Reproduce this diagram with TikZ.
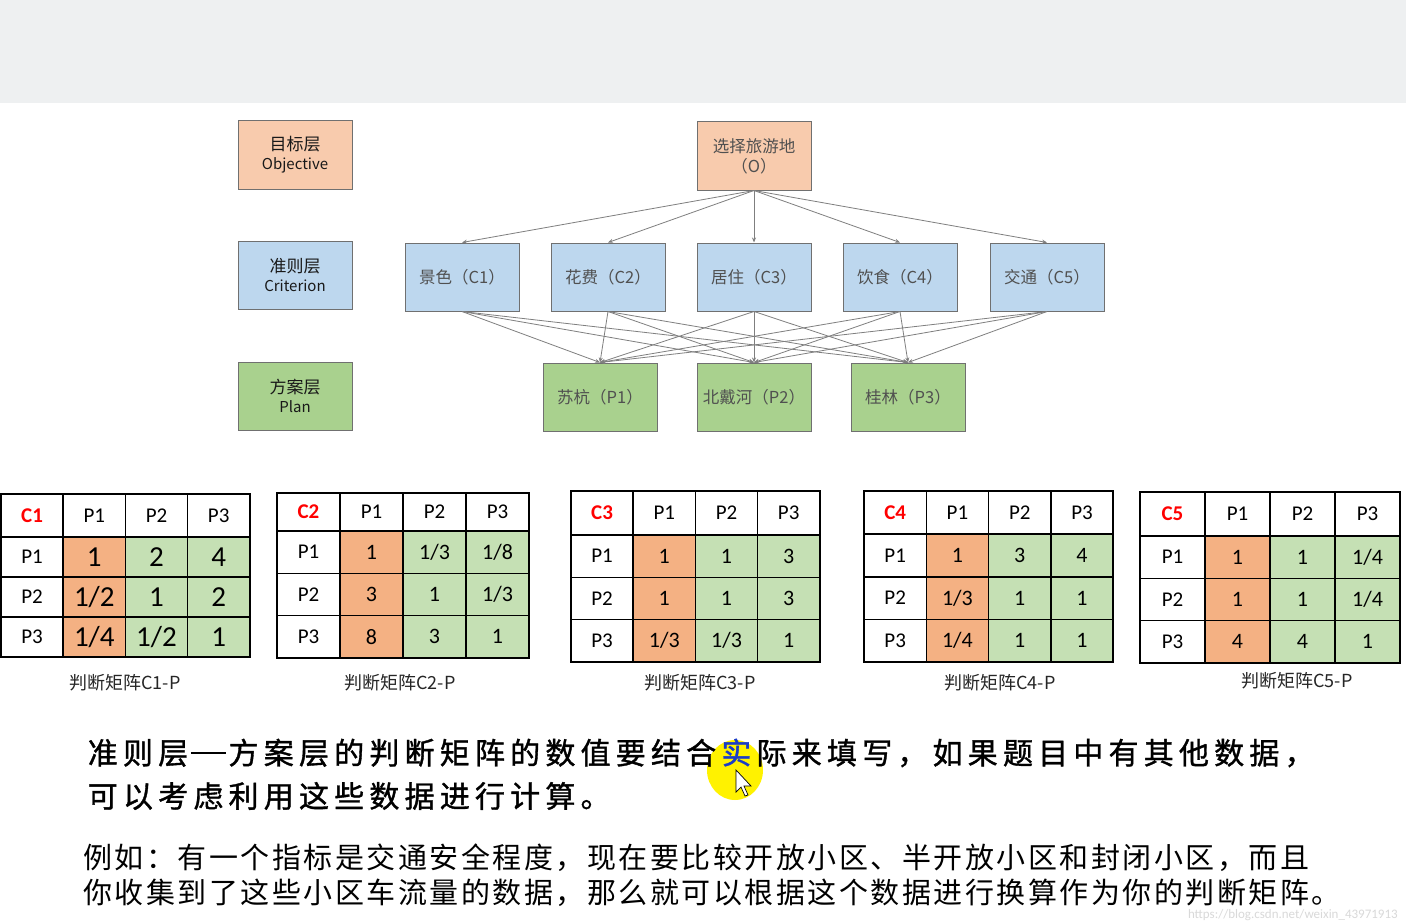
\documentclass[tikz,border=0pt]{standalone}
\usepackage{fontspec}
\setmainfont{Carlito}
\newfontfamily\cjk{Noto Sans CJK SC}
\newfontfamily\cjkfb[FakeBold=1.2]{Noto Sans CJK SC}
\usetikzlibrary{arrows.meta}
\definecolor{topbar}{HTML}{EEF0F1}
\definecolor{peach}{HTML}{F8CBAD}
\definecolor{lblue}{HTML}{BDD7EE}
\definecolor{lgreen}{HTML}{A9D18E}
\definecolor{torange}{HTML}{F4B183}
\definecolor{tgreen}{HTML}{C5E0B4}
\definecolor{boxgrey}{HTML}{707070}
\definecolor{txtgrey}{HTML}{505050}
\definecolor{arrgrey}{HTML}{7F7F7F}
\definecolor{hired}{HTML}{FF0000}
\definecolor{hiblue}{HTML}{1A3CC8}
\definecolor{wmgrey}{HTML}{D9D9D9}
\newlength\cw
\makeatletter
\def\spaced#1{\spaced@aux#1\relax}
\def\spaced@aux#1{\ifx#1\relax\else\makebox[\cw]{#1}\expandafter\spaced@aux\fi}
\makeatother
\tikzset{
  box/.style={draw=boxgrey, line width=1pt, minimum width=114pt, minimum height=68pt, inner sep=0pt, align=center},
  layerlab/.style={box, font=\cjk\fontsize{17}{21}\selectfont, text=black!90},
  nodetxt/.style={box, font=\cjk\fontsize{16.5}{20}\selectfont, text=txtgrey},
  arr/.style={draw=arrgrey, line width=0.8pt, -{Stealth[length=5pt,width=4pt]}},
  tgrid/.style={draw=black, line width=1.6pt},
  tcell/.style={font=\fontsize{21}{21}\selectfont, inner sep=0pt},
  mlabel/.style={font=\cjk\fontsize{18}{18}\selectfont, text=black!85, inner sep=0pt},
}
% #1 prefix, #2 x0, #3 y0, #4 col width, #5 header height, #6 row height, #7 header, #8 values, #9 value font size
\newcommand\mtab[9]{%
\begin{scope}[shift={(#2,#3)}]
\fill[torange] (#4,#5) rectangle ({2*#4},{#5+3*#6});
\fill[tgreen] ({2*#4},#5) rectangle ({4*#4},{#5+3*#6});
\foreach \i in {1,2,3} {
  \draw[tgrid] ({\i*#4},0) -- ({\i*#4},{#5+3*#6});
  \draw[tgrid] (0,{#5+(\i-1)*#6}) -- ({4*#4},{#5+(\i-1)*#6});
}
\draw[tgrid] (0,0) rectangle ({4*#4},{#5+3*#6});
\node[tcell, text=hired, font=\bfseries\fontsize{21}{21}\selectfont] (#1-h) at ({#4/2},{#5/2}) {#7};
\foreach \i in {1,2,3} {
  \node[tcell] (#1-c\i) at ({(\i+0.5)*#4},{#5/2}) {P\i};
  \node[tcell] (#1-r\i) at ({#4/2},{#5+(\i-0.5)*#6}) {P\i};
}
\foreach \v [count=\k from 0] in {#8} {
  \pgfmathtruncatemacro\rr{int(\k/3)}
  \pgfmathtruncatemacro\cc{mod(\k,3)}
  \node[tcell, font=\fontsize{#9}{#9}\selectfont] (#1-v\k) at ({(\cc+1.5)*#4},{#5+(\rr+0.5)*#6}) {\v};
}
\end{scope}}
\begin{document}
\begin{tikzpicture}[x=1pt, y=-1pt]
\useasboundingbox (0,0) rectangle (1406,923);
\fill[white] (0,0) rectangle (1406,923);
\fill[topbar] (0,0) rectangle (1406,103);

% layer labels
\node[layerlab, fill=peach] (objlab) at (295,155) {目标层\\[-2pt]{\fontsize{15}{17}\selectfont Objective}};
\node[layerlab, fill=lblue] (crilab) at (295,275) {准则层\\[-2pt]{\fontsize{15}{17}\selectfont Criterion}};
\node[layerlab, fill=lgreen] (plalab) at (295,396) {方案层\\[-2pt]{\fontsize{15}{17}\selectfont Plan}};

% hierarchy
\node[nodetxt, fill=peach] (O) at (754,156) {选择旅游地\\（O）};
\node[nodetxt, fill=lblue] (C1) at (462,277) {景色（C1）};
\node[nodetxt, fill=lblue] (C2) at (608,277) {花费（C2）};
\node[nodetxt, fill=lblue] (C3) at (754,277) {居住（C3）};
\node[nodetxt, fill=lblue] (C4) at (900,277) {饮食（C4）};
\node[nodetxt, fill=lblue] (C5) at (1047,277) {交通（C5）};
\node[nodetxt, fill=lgreen] (P1) at (600,397) {苏杭（P1）};
\node[nodetxt, fill=lgreen] (P2) at (754,397) {北戴河（P2）};
\node[nodetxt, fill=lgreen] (P3) at (908,397) {桂林（P3）};

\foreach \c in {C1,C2,C3,C4,C5} {
  \draw[arr] (O.south) -- (\c.north);
  \foreach \p in {P1,P2,P3} {
    \draw[arr] (\c.south) -- (\p.north);
  }
}

% matrices
\mtab{m1}{1}{494}{62.2}{43}{40}{C1}{1,2,4,1/2,1,2,1/4,1/2,1}{29}
\mtab{m2}{277}{493}{63}{38}{42.3}{C2}{1,1/3,1/8,3,1,1/3,8,3,1}{22}
\mtab{m3}{571}{491}{62.2}{44}{42.3}{C3}{1,1,3,1,1,3,1/3,1/3,1}{22}
\mtab{m4}{864}{491}{62.3}{43}{42.7}{C4}{1,3,4,1/3,1,1,1/4,1,1}{22}
\mtab{m5}{1140}{492}{65}{44}{42.3}{C5}{1,1,1/4,1,1,1/4,4,4,1}{22}

\node[mlabel] (l1) at (125,683) {判断矩阵C1-P};
\node[mlabel] (l2) at (400,683) {判断矩阵C2-P};
\node[mlabel] (l3) at (700,683) {判断矩阵C3-P};
\node[mlabel] (l4) at (1000,683) {判断矩阵C4-P};
\node[mlabel] (l5) at (1297,681) {判断矩阵C5-P};

% highlight
\fill[yellow] (735,770) ellipse [x radius=28, y radius=30];

% bottom text
\node[anchor=west, inner sep=0pt, font=\cjkfb\fontsize{30}{30}\selectfont] (t1) at (85,753)
  {\setlength\cw{35.2pt}\spaced{准则层{\rule[0.33em]{35.2pt}{2.2pt}}方案层的判断矩阵的数值要结合}\makebox[\cw]{\textcolor{hiblue}{实}}\spaced{际来填写，如果题目中有其他数据，}};
\node[anchor=west, inner sep=0pt, font=\cjkfb\fontsize{30}{30}\selectfont] (t2) at (85,796)
  {\setlength\cw{35.2pt}\spaced{可以考虑利用这些数据进行计算。}};
\node[anchor=west, inner sep=0pt, font=\cjk\fontsize{29}{29}\selectfont] (t3) at (82,858)
  {\setlength\cw{31.5pt}\spaced{例如：有一个指标是交通安全程度，现在要比较开放小区、半开放小区和封闭小区，而且}};
\node[anchor=west, inner sep=0pt, font=\cjk\fontsize{29}{29}\selectfont] (t4) at (82,893)
  {\setlength\cw{31.5pt}\spaced{你收集到了这些小区车流量的数据，那么就可以根据这个数据进行换算作为你的判断矩阵。}};

% cursor
\filldraw[fill=white, draw=black, line width=0.7pt] (736,770) -- (736,792) -- (741,787) -- (745,796) -- (748,795) -- (744,786) -- (751,786) -- cycle;

% watermark
\node[anchor=east, inner sep=0pt, text=wmgrey, font=\fontsize{13}{13}\selectfont] (wm) at (1398,915) {https://blog.csdn.net/weixin\_43971913};
\end{tikzpicture}
\end{document}
